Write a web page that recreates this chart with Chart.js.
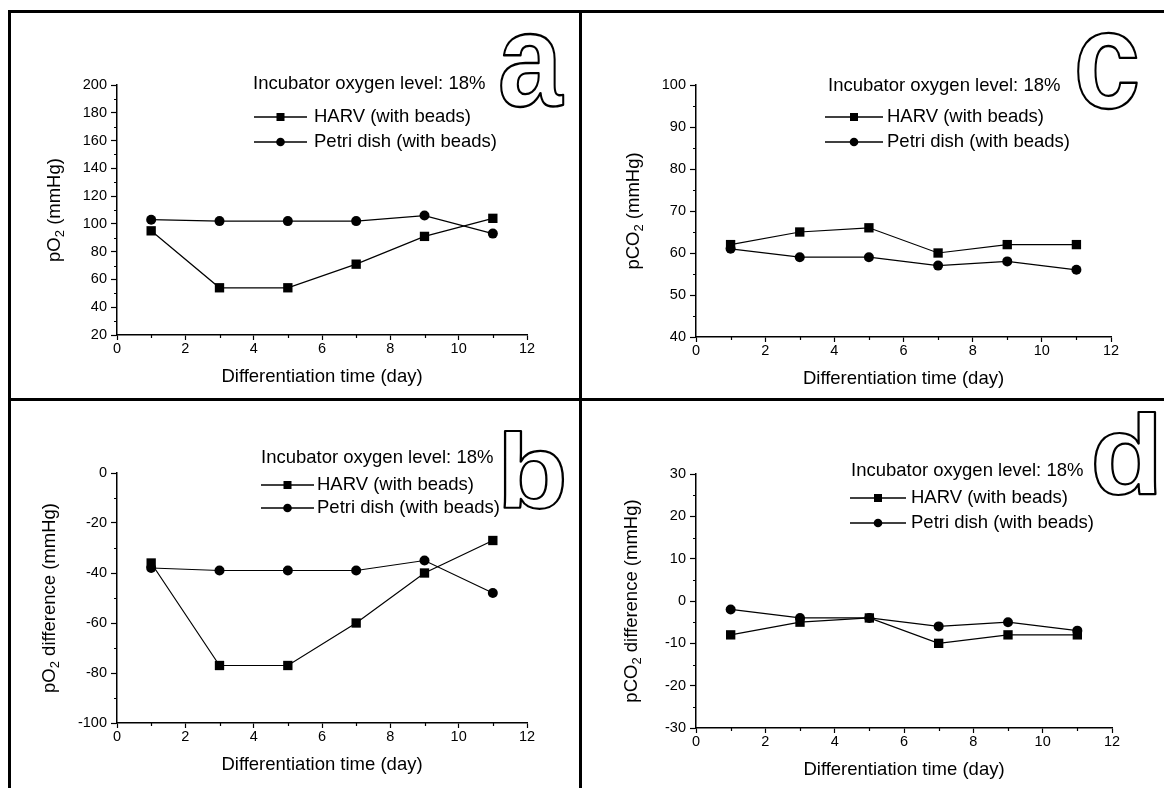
<!DOCTYPE html>
<html>
<head>
<meta charset="utf-8">
<script src="https://cdn.jsdelivr.net/npm/chart.js@4.4.1/dist/chart.umd.min.js"></script>
<style>
  body { margin: 0; background: #fff; }
  #fig { position: relative; width: 1164px; height: 788px; overflow: hidden; background: #fff; }
  .panel { position: absolute; }
  .rule { position: absolute; background: #000; }
</style>
</head>
<body>
<div id="fig">
  <div class="panel" style="left:0;top:0;width:580px;height:398px"><canvas id="chartA"></canvas></div>
  <div class="panel" style="left:580px;top:0;width:584px;height:398px"><canvas id="chartC"></canvas></div>
  <div class="panel" style="left:0;top:398px;width:580px;height:390px"><canvas id="chartB"></canvas></div>
  <div class="panel" style="left:580px;top:398px;width:584px;height:390px"><canvas id="chartD"></canvas></div>
  <div class="rule" style="left:8px;top:10px;width:1156px;height:3px"></div>
  <div class="rule" style="left:8px;top:10px;width:3px;height:778px"></div>
  <div class="rule" style="left:579px;top:10px;width:3px;height:778px"></div>
  <div class="rule" style="left:8px;top:398px;width:1156px;height:3px"></div>
</div>
<script>
// ── data ─────────────────────────────────────────────────────────────────
const days = [1, 3, 5, 7, 9, 11];
const xTicks = [0, 2, 4, 6, 8, 10, 12];

const harvPO2  = [95, 54, 54, 71, 91, 104];
const petriPO2 = [103, 102, 102, 102, 106, 93];
const yTicksA  = [20, 40, 60, 80, 100, 120, 140, 160, 180, 200];

const harvPO2Diff  = [-36, -77, -77, -60, -40, -27];
const petriPO2Diff = [-38, -39, -39, -39, -35, -48];
const yTicksB      = [-100, -80, -60, -40, -20, 0];

const harvPCO2  = [62, 65, 66, 60, 62, 62];
const petriPCO2 = [61, 59, 59, 57, 58, 56];
const yTicksC   = [40, 50, 60, 70, 80, 90, 100];

const harvPCO2Diff  = [-8, -5, -4, -10, -8, -8];
const petriPCO2Diff = [-2, -4, -4, -6, -5, -7];
const yTicksD       = [-30, -20, -10, 0, 10, 20, 30];

const seriesNames = ['HARV (with beads)', 'Petri dish (with beads)'];
const noteText = 'Incubator oxygen level: 18%';

// ── defaults ─────────────────────────────────────────────────────────────
const FONT = '"Liberation Sans", Arial, Helvetica, sans-serif';
Chart.defaults.font.family = FONT;
Chart.defaults.color = '#000';

// ── decorations: minor ticks, y title with subscript, legend, panel letter ──
const decorPlugin = {
  id: 'decor',
  afterDraw(chart, args, o) {
    const ctx = chart.ctx;
    const xs = chart.scales.x, ys = chart.scales.y;
    const a = chart.chartArea;
    ctx.save();
    ctx.strokeStyle = '#000';
    ctx.lineWidth = 1.2;

    // minor ticks
    ctx.beginPath();
    for (let i = 0; i < xTicks.length - 1; i++) {
      const px = Math.round(xs.getPixelForValue((xTicks[i] + xTicks[i + 1]) / 2)) + 0.5;
      ctx.moveTo(px, a.bottom); ctx.lineTo(px, a.bottom + 3);
    }
    const yt = o.yTicks;
    for (let i = 0; i < yt.length - 1; i++) {
      const py = Math.round(ys.getPixelForValue((yt[i] + yt[i + 1]) / 2)) + 0.5;
      ctx.moveTo(a.left, py); ctx.lineTo(a.left - 3, py);
    }
    ctx.stroke();

    // y title, rotated, with subscript
    const big = 'normal 18.5px ' + FONT, small = 'normal 13px ' + FONT;
    const parts = o.yTitle;
    let total = 0;
    parts.forEach(p => { ctx.font = p.sub ? small : big; p.w = ctx.measureText(p.t).width; total += p.w; });
    ctx.translate(o.yTitleX, (a.top + a.bottom) / 2);
    ctx.rotate(-Math.PI / 2);
    ctx.fillStyle = '#000';
    ctx.textBaseline = 'middle';
    let cx = -total / 2;
    parts.forEach(p => {
      ctx.font = p.sub ? small : big;
      ctx.fillText(p.t, cx, p.sub ? 5 : 0);
      cx += p.w;
    });
    ctx.setTransform(1, 0, 0, 1, 0, 0);
    ctx.scale(chart.currentDevicePixelRatio, chart.currentDevicePixelRatio);

    // legend block
    const L = o.legend;
    ctx.font = 'normal 18.5px ' + FONT;
    ctx.textBaseline = 'middle';
    ctx.fillStyle = '#000';
    ctx.fillText(noteText, L.noteX, L.rows[0]);
    chart.data.datasets.forEach((ds, i) => {
      const y = L.rows[i + 1];
      ctx.beginPath();
      ctx.lineWidth = 1.4;
      ctx.moveTo(L.lineX0, y); ctx.lineTo(L.lineX1, y);
      ctx.stroke();
      const mx = (L.lineX0 + L.lineX1) / 2;
      ctx.beginPath();
      if (ds.pointStyle === 'rect') ctx.rect(mx - 4, y - 4, 8, 8);
      else ctx.arc(mx, y, 4.3, 0, Math.PI * 2);
      ctx.fill();
      ctx.fillText(ds.label, L.textX, y);
    });

    // big hollow panel letter fitted into its box
    const b = o.letterBox;
    ctx.font = 'bold 100px ' + FONT;
    ctx.textBaseline = 'alphabetic';
    const m = ctx.measureText(o.letter);
    const inkW = m.actualBoundingBoxLeft + m.actualBoundingBoxRight;
    const inkH = m.actualBoundingBoxAscent + m.actualBoundingBoxDescent;
    const sx = (b[2] - b[0]) / inkW, sy = (b[3] - b[1]) / inkH;
    ctx.translate(b[0], b[1]);
    ctx.scale(sx, sy);
    ctx.fillStyle = '#fff';
    ctx.lineWidth = 2.2 / ((sx + sy) / 2);
    ctx.lineJoin = 'round';
    ctx.fillText(o.letter, m.actualBoundingBoxLeft, m.actualBoundingBoxAscent);
    ctx.strokeText(o.letter, m.actualBoundingBoxLeft, m.actualBoundingBoxAscent);
    ctx.restore();
  }
};

// ── panel builder ────────────────────────────────────────────────────────
function makePanel(id, p) {
  const yAxisW = 60, xAxisH = 53;
  return new Chart(document.getElementById(id), {
    type: 'line',
    data: {
      labels: days,
      datasets: [
        { label: seriesNames[0], data: p.harv, pointStyle: 'rect', pointRadius: 6.6 },
        { label: seriesNames[1], data: p.petri, pointStyle: 'circle', pointRadius: 5 }
      ].map(d => Object.assign(d, {
        borderColor: '#000', borderWidth: 1.2, backgroundColor: '#000',
        pointBackgroundColor: '#000', pointBorderColor: '#000', pointBorderWidth: 0,
        pointHoverRadius: d.pointRadius, tension: 0, clip: false
      }))
    },
    options: {
      responsive: true,
      maintainAspectRatio: false,
      animation: false,
      events: [],
      layout: {
        padding: { left: p.area[0] - yAxisW, top: p.area[1], right: p.w - p.area[2], bottom: p.h - p.area[3] - xAxisH }
      },
      plugins: {
        legend: { display: false },
        tooltip: { enabled: false },
        decor: { yTicks: p.yTicks, yTitle: p.yTitle, yTitleX: p.yTitleX, legend: p.legend, letter: p.letter, letterBox: p.letterBox }
      },
      scales: {
        x: {
          type: 'linear', min: 0, max: 12,
          afterBuildTicks: s => { s.ticks = xTicks.map(v => ({ value: v })); },
          afterFit: s => { s.height = xAxisH; },
          ticks: { font: { size: 14.5 }, color: '#000', padding: 0, maxRotation: 0, callback: v => String(v) },
          grid: { drawOnChartArea: false, drawTicks: true, tickLength: 5, tickColor: '#000', tickWidth: 1.2 },
          border: { color: '#000', width: 1.5 },
          title: { display: true, text: 'Differentiation time (day)', font: { size: 18.5 }, color: '#000', padding: 0 }
        },
        y: {
          min: p.yTicks[0], max: p.yTicks[p.yTicks.length - 1],
          afterBuildTicks: s => { s.ticks = p.yTicks.map(v => ({ value: v })); },
          afterFit: s => { s.width = yAxisW; },
          ticks: { font: { size: 14.5 }, color: '#000', padding: 4, callback: v => String(v) },
          grid: { drawOnChartArea: false, drawTicks: true, tickLength: 6, tickColor: '#000', tickWidth: 1.2 },
          border: { color: '#000', width: 1.5 }
        }
      }
    },
    plugins: [decorPlugin]
  });
}

makePanel('chartA', {
  w: 580, h: 398, area: [117, 85, 527, 335],
  harv: harvPO2, petri: petriPO2, yTicks: yTicksA,
  yTitle: [{ t: 'pO' }, { t: '2', sub: true }, { t: ' (mmHg)' }], yTitleX: 55,
  legend: { noteX: 253, rows: [84, 117, 142], lineX0: 254, lineX1: 307, textX: 314 },
  letter: 'a', letterBox: [500, 34, 564, 107]
});

makePanel('chartC', {
  w: 584, h: 398, area: [116, 85, 531, 337],
  harv: harvPCO2, petri: petriPCO2, yTicks: yTicksC,
  yTitle: [{ t: 'pCO' }, { t: '2', sub: true }, { t: ' (mmHg)' }], yTitleX: 54,
  legend: { noteX: 248, rows: [86, 117, 142], lineX0: 245, lineX1: 303, textX: 307 },
  letter: 'c', letterBox: [497, 32, 557, 109]
});

makePanel('chartB', {
  w: 580, h: 390, area: [117, 75, 527, 325],
  harv: harvPO2Diff, petri: petriPO2Diff, yTicks: yTicksB,
  yTitle: [{ t: 'pO' }, { t: '2', sub: true }, { t: ' difference (mmHg)' }], yTitleX: 50,
  legend: { noteX: 261, rows: [60, 87, 110], lineX0: 261, lineX1: 314, textX: 317 },
  letter: 'b', letterBox: [504, 33, 563, 111]
});

makePanel('chartD', {
  w: 584, h: 390, area: [116, 76, 532, 330],
  harv: harvPCO2Diff, petri: petriPCO2Diff, yTicks: yTicksD,
  yTitle: [{ t: 'pCO' }, { t: '2', sub: true }, { t: ' difference (mmHg)' }], yTitleX: 52,
  legend: { noteX: 271, rows: [73, 100, 125], lineX0: 270, lineX1: 326, textX: 331 },
  letter: 'd', letterBox: [515, 13, 576, 97]
});
</script>
</body>
</html>
